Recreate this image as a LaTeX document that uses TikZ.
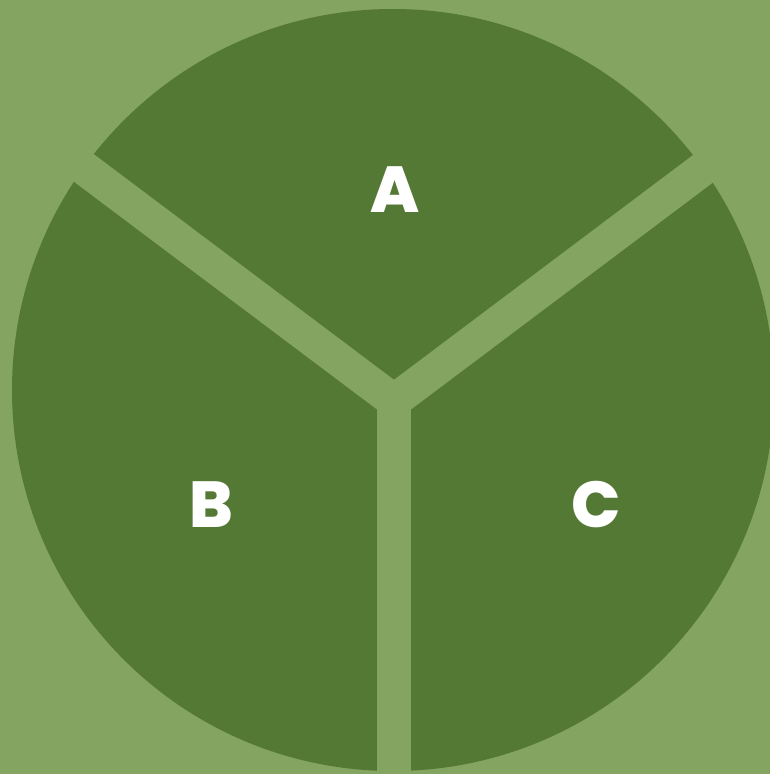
\documentclass[tikz,border=0pt]{standalone}
\usepackage{fontspec}
\newfontfamily\lblfont{Poppins}[BoldFont={* ExtraBold}]
\definecolor{bgleaf}{HTML}{84A462}
\definecolor{darkleaf}{HTML}{547934}
\tikzset{
  gap/.style={draw=bgleaf, line width=0.68cm, line join=miter, line cap=butt},
  partlabel/.style={text=white, font=\lblfont\bfseries\fontsize{37}{37}\selectfont, inner sep=0pt}
}
\begin{document}
\begin{tikzpicture}[x=0.02cm, y=-0.02cm]
  \fill[bgleaf] (0,0) rectangle (770,774);
  \useasboundingbox (0,0) rectangle (770,774);
  \fill[darkleaf] (393,390) circle[radius=381];
  % the three gaps meet at the hub
  \coordinate (hub) at (394,401);
  \coordinate (endleft) at (60,150);
  \coordinate (endright) at (728,150);
  \coordinate (endbottom) at (394,790);
  \draw[gap] (endleft) -- (hub) -- (endright);
  \draw[gap] (hub) -- (endbottom);
  \node[partlabel] (partA) at (395,190) {A};
  \node[partlabel] (partB) at (211,505) {B};
  \node[partlabel] (partC) at (596,505) {C};
\end{tikzpicture}
\end{document}
